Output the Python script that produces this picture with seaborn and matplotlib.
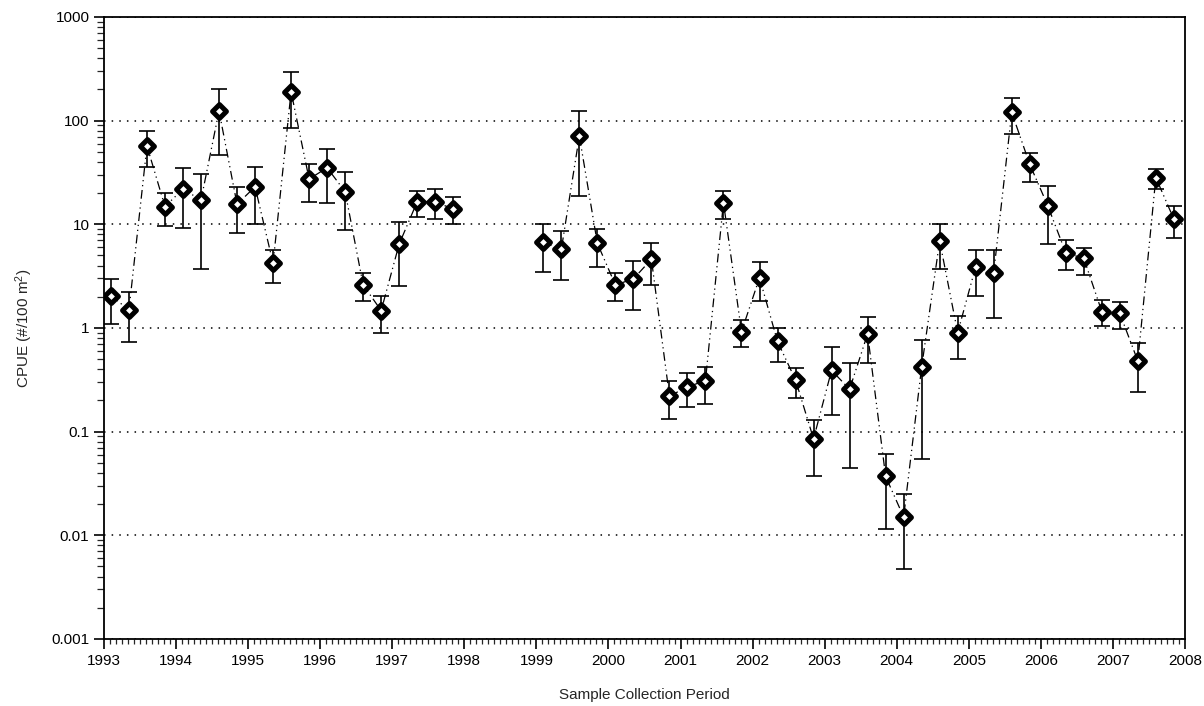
import numpy as np
import pandas as pd
import seaborn as sns
import matplotlib.pyplot as plt
from matplotlib.ticker import MultipleLocator, LogLocator, FuncFormatter, NullFormatter

sns.set_style('ticks')
plt.rcParams['font.family'] = ['Liberation Sans', 'DejaVu Sans']
plt.rcParams['mathtext.default'] = 'regular'

# sampling: four collections a year (Feb, May, Aug, Nov), no sampling in 1998
years = [1993, 1994, 1995, 1996, 1997, 1999, 2000, 2001, 2002, 2003, 2004, 2005, 2006, 2007]
months = [2, 5, 8, 11]

cpue = [2.05, 1.49, 57, 14.8, 21.9, 17.1, 124, 15.6, 23, 4.2,
        190, 27.3, 35.1, 20.6, 2.6, 1.47, 6.45, 16.5, 16.5, 14,
        6.7, 5.74, 71, 6.55, 2.6, 2.97, 4.6, 0.22, 0.27, 0.31,
        16.2, 0.92, 3.05, 0.74, 0.315, 0.085, 0.39, 0.256, 0.875, 0.037,
        0.015, 0.42, 6.9, 0.90, 3.9, 3.4, 120, 37.9, 15.1, 5.3,
        4.7, 1.44, 1.38, 0.48, 28.2, 11.2]
upper = [2.95, 2.24, 79, 19.9, 34.9, 30.3, 200, 23, 36, 5.65,
         297, 38, 53, 32, 3.4, 2.05, 10.5, 21.1, 21.8, 18.5,
         10, 8.6, 124, 9.1, 3.4, 4.4, 6.65, 0.31, 0.366, 0.42,
         21.1, 1.19, 4.36, 1.0, 0.41, 0.13, 0.65, 0.46, 1.27, 0.061,
         0.025, 0.77, 10, 1.3, 5.65, 5.65, 164, 49, 23.4, 7.06,
         5.95, 1.86, 1.79, 0.71, 34.1, 15.1]
lower = [1.1, 0.73, 35.9, 9.7, 9.2, 3.7, 46.6, 8.2, 10, 2.73,
         84, 16.5, 15.9, 8.8, 1.8, 0.89, 2.56, 11.8, 11.2, 10,
         3.5, 2.9, 18.9, 3.9, 1.8, 1.5, 2.57, 0.132, 0.174, 0.184,
         11.2, 0.66, 1.8, 0.47, 0.213, 0.037, 0.143, 0.045, 0.46, 0.0116,
         0.0047, 0.055, 3.7, 0.50, 2.05, 1.24, 75, 25.8, 6.4, 3.6,
         3.24, 1.05, 0.97, 0.243, 21.9, 7.3]

df = pd.DataFrame({'year': np.repeat(years, len(months)),
                   'month': np.tile(months, len(years))})
df['date'] = df['year'] + (df['month'] - 0.85) / 12
df['cpue'] = cpue
df['upper'] = upper
df['lower'] = lower
# break the line across the 1998 gap
df['period'] = np.where(df['year'] < 1998, 'early', 'late')

fig, ax = plt.subplots(figsize=(12.04, 7.06), dpi=100)
fig.subplots_adjust(left=0.0864, right=0.9842, top=0.976, bottom=0.095)

ax.set_yscale('log')

sns.lineplot(data=df, x='date', y='cpue', units='period', estimator=None, sort=False,
             color='black', lw=0.9, linestyle=(0, (7, 3, 1, 3, 1, 3)), ax=ax, zorder=1)

ax.errorbar(df['date'], df['cpue'],
            yerr=[df['cpue'] - df['lower'], df['upper'] - df['cpue']],
            fmt='none', ecolor='black', elinewidth=1.2, capsize=5.5, capthick=1.2, zorder=2)

sns.scatterplot(data=df, x='date', y='cpue', marker='D', s=50, color='white',
                edgecolor='black', linewidth=3.6, ax=ax, zorder=3)

ax.set_xlim(1993, 2008)
ax.set_ylim(0.001, 1000)

ax.set_xticks(range(1993, 2009))
ax.xaxis.set_minor_locator(MultipleLocator(1 / 12))
ax.yaxis.set_major_locator(LogLocator(base=10, numticks=10))
ax.yaxis.set_minor_locator(LogLocator(base=10, subs=range(2, 10), numticks=20))
ax.yaxis.set_major_formatter(FuncFormatter(lambda v, p: f'{v:g}'))
ax.yaxis.set_minor_formatter(NullFormatter())

ax.grid(axis='y', which='major', color='black', lw=1.1, ls=(0, (1, 4)))
ax.set_axisbelow(True)

for s in ax.spines.values():
    s.set_linewidth(1.3)
    s.set_color('black')

ax.tick_params(axis='both', which='major', direction='out', length=7, width=1.2,
               labelsize=11, colors='black')
ax.tick_params(axis='x', which='minor', direction='out', length=3.5, width=0.9)
ax.tick_params(axis='y', which='minor', direction='out', length=5, width=0.9)

ax.set_xlabel('Sample Collection Period', fontsize=11, labelpad=15)
ax.set_ylabel('CPUE (#/100 m$^2$)', fontsize=11, labelpad=12)

plt.savefig('out.png', dpi=100)
